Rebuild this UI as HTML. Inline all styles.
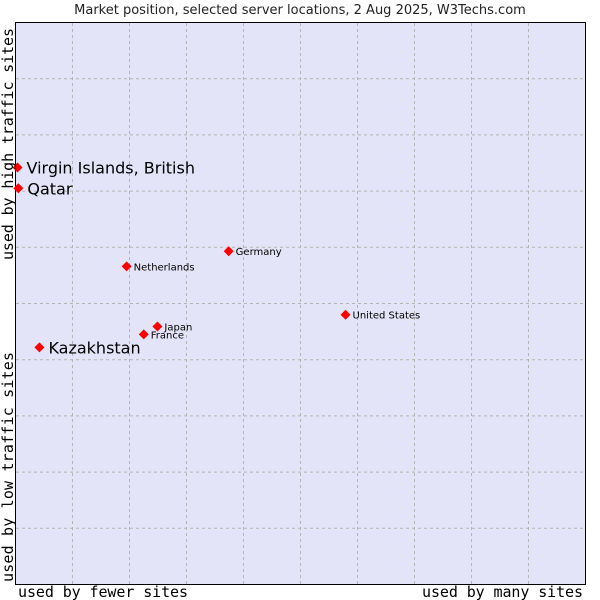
<!DOCTYPE html>
<html><head><meta charset="utf-8"><style>
body{margin:0;background:#fff;}
svg{display:block;font-family:"DejaVu Sans","Liberation Sans",sans-serif;}
.mono{font-family:"DejaVu Sans Mono","Liberation Mono",monospace;}
</style></head><body>
<svg id="chart" width="600" height="600">
<rect x="0" y="0" width="600" height="600" fill="#fff"/>
<text x="300" y="14" text-anchor="middle" font-size="13" fill="#222">Market position, selected server locations, 2 Aug 2025, W3Techs.com</text>
<rect x="15.5" y="22.5" width="570" height="562" fill="#e4e4f8" stroke="#000"/>
<g id="grid"></g>
<g id="points"></g>
<text class="mono" x="18" y="597" font-size="15" textLength="170">used by fewer sites</text>
<text class="mono" x="422" y="597" font-size="15" textLength="161">used by many sites</text>
<text class="mono" transform="translate(13,260) rotate(-90)" font-size="15" textLength="232">used by high traffic sites</text>
<text class="mono" transform="translate(13,582) rotate(-90)" font-size="15" textLength="230">used by low traffic sites</text>
</svg>
<script>
const names=["Virgin Islands, British","Qatar","Kazakhstan","Netherlands","Germany","United States","Japan","France"];
const xVals=[0.35,0.5,4.2,19.5,37.4,57.9,24.9,22.5];
const yVals=[74.2,70.5,42.2,56.6,59.3,48.0,45.9,44.5];
const big=[true,true,true,false,false,false,false,false];
const gridTicks=[10,20,30,40,50,60,70,80,90];
const ns="http://www.w3.org/2000/svg";
const X=v=>15.5+5.7*v, Y=v=>584.5-5.62*v;
const g=document.getElementById('grid'), p=document.getElementById('points');
gridTicks.forEach(t=>{
  const a=document.createElementNS(ns,'line');
  a.setAttribute('x1',X(t));a.setAttribute('x2',X(t));a.setAttribute('y1',23);a.setAttribute('y2',584);
  a.setAttribute('stroke','#b4b4b4');a.setAttribute('stroke-dasharray','3,3');
  
  
  g.appendChild(a);
  const b=document.createElementNS(ns,'line');
  b.setAttribute('y1',Y(t));b.setAttribute('y2',Y(t));b.setAttribute('x1',16);b.setAttribute('x2',585);
  b.setAttribute('stroke','#b4b4b4');b.setAttribute('stroke-dasharray','3,3');
  
  
  g.appendChild(b);
});
names.forEach((n,i)=>{
  const cx=X(xVals[i]), cy=Y(yVals[i]);
  const d=document.createElementNS(ns,'polygon');
  d.setAttribute('points',`${cx},${cy-5} ${cx+5},${cy} ${cx},${cy+5} ${cx-5},${cy}`);
  d.setAttribute('fill','#f00');
  
  
  p.appendChild(d);
  const t=document.createElementNS(ns,'text');
  t.setAttribute('x',cx+(big[i]?9:7));t.setAttribute('y',cy+(big[i]?6:4));
  t.setAttribute('font-size',big[i]?16:10);
  t.textContent=n;
  
  
  p.appendChild(t);
});
</script>
</body></html>
